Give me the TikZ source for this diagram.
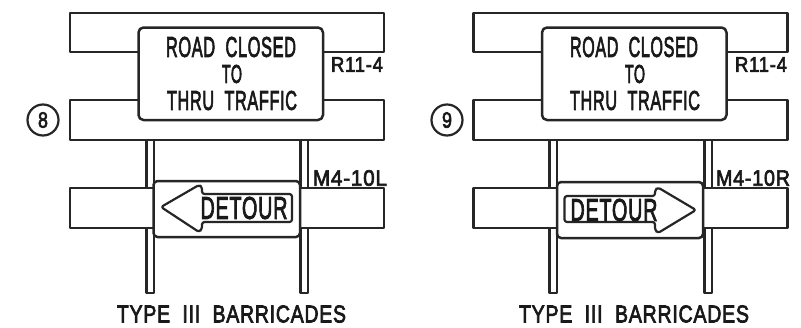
\documentclass[tikz,border=0pt]{standalone}
\usepackage{fontspec}
\usepackage{graphicx}
\setmainfont[FakeBold=3.2,LetterSpace=4,WordSpace=2]{Liberation Sans}
\newcommand{\fit}[3]{\resizebox{#1pt}{#2pt}{#3}}
\tikzset{
  x=1pt,y=-1pt,
  line/.style={draw=black!85,line width=2.5pt,line join=round},
  board/.style={line,fill=white},
  plate/.style={line,fill=white,rounded corners=5pt},
  smallplate/.style={line,fill=white,rounded corners=4pt},
  post/.style={line,fill=white},
  tip/.style={line,fill=white,rounded corners=2.5pt,line width=2.2pt},
  lbl/.style={inner sep=0pt,outer sep=0pt,text=black!90,anchor=center},
  ring/.style={circle,draw=black!85,line width=2.2pt,inner sep=0pt,minimum size=31pt,text=black!90}
}
\begin{document}
\begin{tikzpicture}
\useasboundingbox (0,0) rectangle (801,327);
% left barricade
\draw[post] (146.5,140) rectangle (154,293);
\draw[post] (300.5,140) rectangle (308,293);
\draw[board] (70,13) rectangle (384,52);
\draw[board] (70,100) rectangle (384,140);
\draw[board] (70,188) rectangle (384,228);
\draw[plate] (138.5,27.5) rectangle (323,120);
\draw[smallplate] (153.5,181) rectangle (300,237);
\draw[tip] (161,207) -- (199,185) -- (202,187) -- (202,194) -- (292,194) -- (292,222) -- (202,222) -- (202,229) -- (199,232) -- cycle;
\node[lbl] (a1) at (231,47) {\fit{130}{20}{ROAD CLOSED}};
\node[lbl] (a2) at (232,74) {\fit{20}{18}{TO}};
\node[lbl] (a3) at (232,100.5) {\fit{130}{19}{THRU TRAFFIC}};
\node[lbl] (a4) at (357,64.5) {\fit{52}{14.5}{R11-4}};
\node[lbl] (a5) at (350,178) {\fit{74}{15.5}{M4-10L}};
\node[lbl] (a6) at (244,208) {\fit{87}{22}{DETOUR}};
\node[lbl] (a7) at (231.5,314) {\fit{229}{17}{TYPE III BARRICADES}};
\node[ring] (a8) at (43,120) {\fit{10}{15.5}{8}};
% right barricade
\draw[post] (549.5,140) rectangle (557,293);
\draw[post] (704.5,140) rectangle (712,293);
\draw[board] (473.5,13) rectangle (787.5,52);
\draw[board] (473.5,100) rectangle (787.5,140);
\draw[board] (473.5,188) rectangle (787.5,228);
\draw[plate] (542,27.5) rectangle (726.5,120);
\draw[smallplate] (557,182) rectangle (703,238);
\draw[tip] (696,210) -- (658,187.5) -- (655,190) -- (655,196) -- (564.5,196) -- (564.5,222) -- (655,222) -- (655,230) -- (658,233) -- cycle;
\node[lbl] (b1) at (634,47) {\fit{128}{20}{ROAD CLOSED}};
\node[lbl] (b2) at (635,74) {\fit{20}{18}{TO}};
\node[lbl] (b3) at (635,100.5) {\fit{130}{19}{THRU TRAFFIC}};
\node[lbl] (b4) at (761,64.5) {\fit{52}{14.5}{R11-4}};
\node[lbl] (b5) at (753,178) {\fit{74}{15.5}{M4-10R}};
\node[lbl] (b6) at (614,210) {\fit{87}{22}{DETOUR}};
\node[lbl] (b7) at (634,314) {\fit{230}{17}{TYPE III BARRICADES}};
\node[ring] (b8) at (447,120) {\fit{10}{15.5}{9}};
\end{tikzpicture}
\end{document}
